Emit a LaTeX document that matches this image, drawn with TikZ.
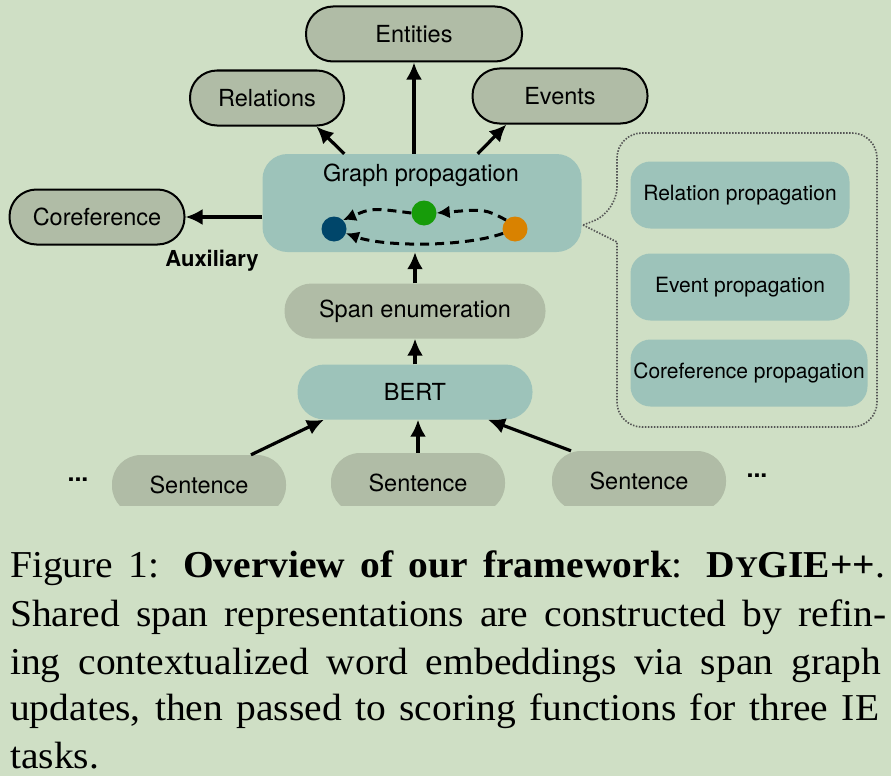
\documentclass[tikz,border=0pt]{standalone}
\usepackage{fontspec}
\setmainfont{Liberation Serif}
\newfontfamily\capfont[FakeStretch=1.04]{Liberation Serif}
\newfontfamily\hv{TeX Gyre Heros}
\usetikzlibrary{arrows.meta}
\definecolor{bg}{HTML}{CFDFC5}
\definecolor{gg}{HTML}{B0BCA6}
\definecolor{tl}{HTML}{9DC3BA}
\definecolor{dblue}{HTML}{00466A}
\definecolor{dgreen}{HTML}{179C0A}
\definecolor{dorange}{HTML}{D98200}
\definecolor{dotgray}{HTML}{555555}
\begin{document}
\begin{tikzpicture}[x=1pt,y=-1pt,
  pill/.style={draw=black, line width=2pt, fill=gg, rounded corners=27pt, minimum height=55pt, inner sep=0pt, font=\hv\fontsize{23.5}{27}\selectfont},
  fpill/.style={fill=#1, rounded corners=27pt, minimum height=55pt, inner sep=0pt, font=\hv\fontsize{23.5}{27}\selectfont},
  spill/.style={fill=gg, rounded corners=29pt, minimum height=60pt, minimum width=174pt, inner sep=0pt, font=\hv\fontsize{23.5}{27}\selectfont},
  sbox/.style={fill=tl, rounded corners=20pt, minimum height=67pt, inner sep=0pt, font=\hv\fontsize{21}{25}\selectfont},
  gbox/.style={fill=tl, rounded corners=25pt, minimum width=319pt, minimum height=98pt, inner sep=0pt},
  dotnode/.style={circle, fill=#1, minimum size=25pt, inner sep=0pt},
  arr/.style={-{Latex[length=17pt,width=16pt]}, line width=3.2pt},
  darr/.style={-{Latex[length=13pt,width=13pt]}, line width=3pt, dash pattern=on 9pt off 6pt},
  callout/.style={draw=dotgray, line width=1.6pt, dash pattern=on 1.5pt off 1.5pt},
  lbl/.style={inner sep=0pt, font=\hv\fontsize{23.5}{27}\selectfont},
  captxt/.style={anchor=base west, inner sep=0pt, font=\capfont\fontsize{38}{44}\selectfont}
]
\useasboundingbox (0,0) rectangle (891,776);
\fill[bg] (0,0) rectangle (891,776);

% top outputs
\node[pill, minimum width=216pt] (ent) at (414,34) {Entities};
\node[pill, minimum width=154pt] (rel) at (267,98) {Relations};
\node[pill, minimum width=175pt] (evt) at (560,96) {Events};
\node[pill, minimum width=175pt] (coref) at (97,217) {Coreference};

% graph propagation
\node[gbox] (gp) at (422,203) {};
\node[lbl] (gpl) at (421,175) {Graph propagation};
\node[dotnode=dblue] (db) at (334,229) {};
\node[dotnode=dgreen] (dg) at (424,213) {};
\node[dotnode=dorange] (do) at (515,229) {};
\draw[darr] (do.north west) .. controls (485,209) .. (dg.east);
\draw[darr] (dg.west) .. controls (372,208) .. (db.north east);
\draw[darr] (do.200) .. controls (465,247) and (385,247) .. (db.-20);

\node[inner sep=0pt, font=\hv\bfseries\fontsize{22}{26}\selectfont] (aux) at (212,261) {Auxiliary};

% pipeline
\node[fpill=gg, minimum width=261pt] (span) at (415,311) {Span enumeration};
\node[fpill=tl, minimum width=235pt] (bert) at (415,392) {BERT};

\begin{scope}
\clip (0,0) rectangle (891,505);
\node[spill] (s1) at (199,485) {Sentence};
\node[spill] (s2) at (418,483) {Sentence};
\node[spill] (s3) at (639,481) {Sentence};
\end{scope}
\node[inner sep=0pt, font=\hv\bfseries\fontsize{25}{28}\selectfont] (e1) at (78,480) {...};
\node[inner sep=0pt, font=\hv\bfseries\fontsize{25}{28}\selectfont] (e2) at (757,476) {...};

% arrows
\draw[arr] (gp.north -| ent.south) -- (ent.south);
\draw[arr] ([xshift=82pt]gp.north west) -- (rel.-30);
\draw[arr] ([xshift=-104pt]gp.north east) -- (evt.-152);
\draw[arr] (gp.west |- coref) -- (coref.east);
\draw[arr] (span.north) -- (span.north |- gp.south);
\draw[arr] (bert.north) -- (span.south);
\draw[arr] (s2.north) -- (s2.north |- bert.south);
\draw[arr] ([xshift=52pt]s1.north) -- ([xshift=-91pt]bert.south);
\draw[arr] ([xshift=-68pt]s3.north) -- ([xshift=73pt]bert.south);

% callout
\draw[callout] (583,225) -- (617,242) [rounded corners=25pt] -- (617,427) -- (877,427) -- (877,133) -- (617,133) -- (617,212) [sharp corners] -- (583,225);
\node[sbox, minimum width=219pt] (rp) at (740,195) {Relation propagation};
\node[sbox, minimum width=219pt] (ep) at (740,287) {Event propagation};
\node[sbox, minimum width=237pt] (cp) at (749,373) {Coreference propagation};

% caption
\node[captxt] (c1) at (10,577) {\makebox[875pt][s]{Figure 1: \textbf{Overview of our framework}: \textbf{D{\fontsize{30}{30}\selectfont Y}GIE++}.}};
\node[captxt] (c2) at (10,626) {\makebox[876pt][s]{Shared span representations are constructed by refin-}};
\node[captxt] (c3) at (10,674) {\makebox[871pt][s]{ing contextualized word embeddings via span graph}};
\node[captxt] (c4) at (10,720) {\makebox[869pt][s]{updates, then passed to scoring functions for three IE}};
\node[captxt] (c5) at (10,768) {tasks.};
\end{tikzpicture}
\end{document}
